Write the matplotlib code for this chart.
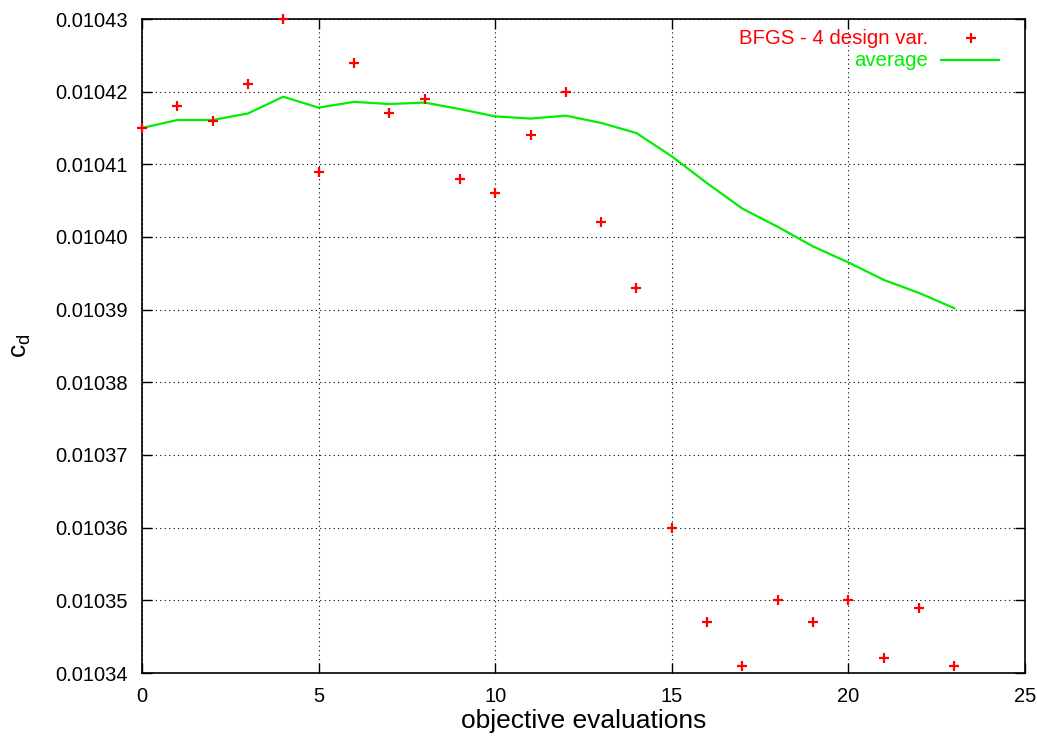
import matplotlib
matplotlib.use("Agg")
import matplotlib.pyplot as plt
from matplotlib.ticker import FormatStrFormatter, MultipleLocator

evaluations = list(range(24))
cd_values = [0.010415, 0.010418, 0.010416, 0.010421, 0.010430, 0.010409,
             0.010424, 0.010417, 0.010419, 0.010408, 0.010406, 0.010414,
             0.010420, 0.010402, 0.010393, 0.010360, 0.010347, 0.010341,
             0.010350, 0.010347, 0.010350, 0.010342, 0.010349, 0.010341]
average_values = [0.0104150, 0.0104161, 0.0104161, 0.0104170, 0.0104193, 0.0104178,
                  0.0104186, 0.0104183, 0.0104185, 0.0104176, 0.0104166, 0.0104163,
                  0.0104167, 0.0104157, 0.0104143, 0.0104111, 0.0104074, 0.0104039,
                  0.0104014, 0.0103987, 0.0103965, 0.0103941, 0.0103923, 0.0103902]
series_label = "BFGS - 4 design var."
average_label = "average"
x_label = "objective evaluations"

plt.rcParams['font.family'] = ['Liberation Sans', 'DejaVu Sans']

fig = plt.figure(figsize=(10.37, 7.36), dpi=100)
ax = fig.add_axes([142/1037, (736-673)/736, (1025-142)/1037, (673-19)/736])

red = '#ff0000'
green = '#00ee00'

ax.plot(evaluations, average_values, color=green, lw=1.6, zorder=3)
ax.plot(evaluations, cd_values, linestyle='none', marker='+', color=red,
        markersize=7, markeredgewidth=1.6, zorder=4, clip_on=False)

ax.set_xlim(0, 25)
ax.set_ylim(0.01034, 0.01043)
ax.xaxis.set_major_locator(MultipleLocator(5))
ax.yaxis.set_major_locator(MultipleLocator(0.00001))
ax.yaxis.set_major_formatter(FormatStrFormatter('%.5f'))
ax.tick_params(direction='in', length=7, width=1, top=True, right=True,
               labelsize=14.5, pad=10)
ax.grid(True, linestyle=(0, (1, 3)), color='black', lw=0.8)
for s in ax.spines.values():
    s.set_linewidth(1.2)

ax.set_xlabel(x_label, fontsize=19, labelpad=2)
ax.set_ylabel(r'c$_\mathregular{d}$', fontsize=19, labelpad=16)

# key (gnuplot-style, text right-aligned, sample to the right)
def fx(px):
    return (px - 142) / (1025 - 142)
def fy(py):
    return (673 - py) / (673 - 19)

ax.text(fx(928), fy(38), series_label, color=red, fontsize=14.7, ha='right', va='center',
        transform=ax.transAxes)
ax.plot([fx(971)], [fy(38)], marker='+', color=red, markersize=7, markeredgewidth=1.6,
        transform=ax.transAxes, linestyle='none')
ax.text(fx(928), fy(60), average_label, color=green, fontsize=14.7, ha='right', va='center',
        transform=ax.transAxes)
ax.plot([fx(941), fx(999)], [fy(60), fy(60)], color=green, lw=1.6, transform=ax.transAxes)

fig.savefig('out.png', dpi=100)
